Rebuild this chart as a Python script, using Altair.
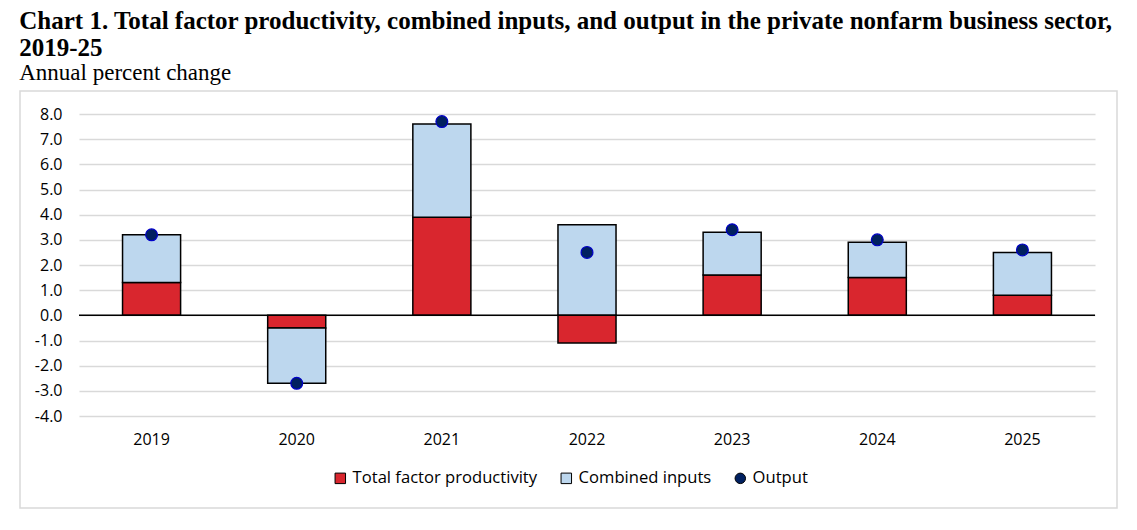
import altair as alt
import pandas as pd

years = ["2019", "2020", "2021", "2022", "2023", "2024", "2025"]
tfp = [1.3, -0.5, 3.9, -1.1, 1.6, 1.5, 0.8]
inputs = [1.9, -2.2, 3.7, 3.6, 1.7, 1.4, 1.7]
output = [3.2, -2.7, 7.7, 2.5, 3.4, 3.0, 2.6]

series_names = ["Total factor productivity", "Combined inputs", "Output"]
series_colors = ["#d9262e", "#bdd7ee", "#002060"]
series_shapes = ["square", "square", "circle"]
y_ticks = [-4, -3, -2, -1, 0, 1, 2, 3, 4, 5, 6, 7, 8]

bars_rows = []
for i, y in enumerate(years):
    bars_rows.append({"year": y, "series": series_names[0], "value": tfp[i], "ord": 0})
    bars_rows.append({"year": y, "series": series_names[1], "value": inputs[i], "ord": 1})
bars_df = pd.DataFrame(bars_rows)
out_df = pd.DataFrame({"year": years, "series": series_names[2], "value": output})

FONT = "Open Sans"
W, H = 1016, 302

xscale = alt.Scale(domain=years, paddingInner=0.6, paddingOuter=0.3)
yscale = alt.Scale(domain=[-4, 8], nice=False, zero=False)
fill_scale = alt.Scale(domain=series_names, range=series_colors)
shape_scale = alt.Scale(domain=series_names, range=series_shapes)

xaxis = alt.Axis(title=None, domain=False, ticks=False, grid=False, labelAngle=0,
                 labelFont=FONT, labelFontSize=16, labelColor="#000000", labelPadding=15)
yaxis = alt.Axis(title=None, domain=False, ticks=False, values=y_ticks, labelOverlap=False,
                 tickCount=13,
                 labelExpr="(datum.value < 0 ? '-' : '') + format(abs(datum.value), '.1f')",
                 labelFont=FONT, labelFontSize=16, labelColor="#000000", labelPadding=17,
                 gridColor="#d9d9d9", gridWidth=1.5)

legend = alt.Legend(title=None, orient="none", direction="horizontal",
                    legendX=253, legendY=356,
                    labelFont=FONT, labelFontSize=16.6, labelColor="#000000",
                    symbolSize=110, symbolStrokeColor="#000000", symbolStrokeWidth=1,
                    columnPadding=20, labelOffset=4, labelLimit=400)

frame = alt.Chart(out_df).mark_rect(fill="transparent", stroke="#d9d9d9", strokeWidth=1.5).encode(
    x=alt.value(-59), x2=alt.value(1038), y=alt.value(-23), y2=alt.value(394)
).transform_filter("datum.year == '2019'")

bars = alt.Chart(bars_df).mark_bar(stroke="#000000", strokeWidth=1.5).encode(
    x=alt.X("year:N", scale=xscale, axis=xaxis, sort=years),
    y=alt.Y("value:Q", scale=yscale, axis=yaxis, stack="zero"),
    fill=alt.Fill("series:N", scale=fill_scale, legend=legend),
    order=alt.Order("ord:Q"),
)

zero = alt.Chart(out_df).mark_rule(color="#000000", strokeWidth=1.5).encode(
    y=alt.Y(datum=0, type="quantitative", scale=yscale, axis=yaxis)
).transform_filter("datum.year == '2019'")

points = alt.Chart(out_df).mark_point(filled=True, size=140, stroke="#0000c8",
                                      strokeWidth=1.2, opacity=1).encode(
    x=alt.X("year:N", scale=xscale, sort=years, axis=xaxis),
    y=alt.Y("value:Q", scale=yscale, axis=yaxis),
    fill=alt.Fill("series:N", scale=fill_scale, legend=legend),
    shape=alt.Shape("series:N", scale=shape_scale, legend=legend),
)

chart = alt.layer(frame, bars, zero, points).properties(
    width=W, height=H,
    autosize=alt.AutoSizeParams(type="none"),
    padding={"left": 71, "top": 106, "right": 30, "bottom": 100},
    background="#ffffff",
    title=alt.TitleParams(
        text=["Chart 1. Total factor productivity, combined inputs, and output in the private nonfarm business sector,",
              "2019-25"],
        subtitle="Annual percent change",
        anchor="start", frame="bounds",
        font="Liberation Serif", fontSize=25, fontWeight="bold", color="#000000",
        lineHeight=27,
        subtitleFont="Liberation Serif", subtitleFontSize=23, subtitleColor="#000000",
        subtitlePadding=1, offset=5,
    ),
).configure_view(stroke="transparent", strokeWidth=0)

chart.save("out.html", embed_options={"renderer": "svg", "actions": False})
